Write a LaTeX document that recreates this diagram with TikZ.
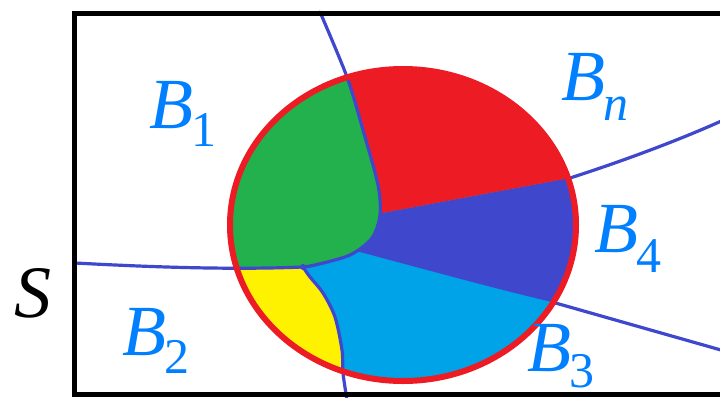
\documentclass[tikz,border=0pt]{standalone}
\usepackage{fontspec}
\setmainfont{Liberation Serif}
\definecolor{rgreen}{RGB}{34,177,76}
\definecolor{rred}{RGB}{237,28,36}
\definecolor{rdblue}{RGB}{63,72,204}
\definecolor{rlblue}{RGB}{0,162,232}
\definecolor{ryellow}{RGB}{255,242,0}
\definecolor{labblue}{RGB}{0,128,255}
\newcommand\blab[2]{{\fontsize{72}{72}\selectfont\itshape B}\kern-2pt\raisebox{-#2}{\fontsize{50}{50}\selectfont #1}}
\tikzset{
  border/.style={line width=5.5pt, black},
  bound/.style={line width=3.2pt, rdblue, line cap=round, line join=round},
  rim/.style={line width=6pt, rred},
  lab/.style={anchor=base west, inner sep=0pt, text=labblue}
}
\begin{document}
\begin{tikzpicture}[x=1pt,y=-1pt]
\useasboundingbox (0,0) rectangle (720,397);
\clip (0,0) rectangle (720,397);
\fill[white] (0,0) rectangle (720,397);
% regions inside the disc
\begin{scope}
  \clip (403,225) ellipse [x radius=173, y radius=156];
  \fill[rlblue] (200,0) rectangle (720,397);
  \fill[rdblue] (382,213) -- (570,178) -- (720,150) -- (720,350) -- (552,302)
     .. controls (500,290) and (420,268) .. (360,252) -- (340,250) -- (340,213) -- cycle;
  \fill[rred] plot[smooth] coordinates {(320,14) (347,77) (363,130) (378,185) (382,213)}
     -- (570,178) -- (720,123) -- (720,0) -- cycle;
  \fill[rgreen] plot[smooth] coordinates {(320,14) (347,77) (363,130) (378,185) (380,215) (372,238) (350,255) (315,265) (303,267)}
     -- (200,268) -- (200,0) -- cycle;
  \fill[ryellow] plot[smooth] coordinates {(303,267) (310,277) (323,293) (335,317) (342,350) (343,373) (347,400)}
     -- (200,400) -- (200,268) -- cycle;
\end{scope}
% boundary curves
\coordinate (J) at (303,267);
\coordinate (L0) at (75,263);
\draw[bound] plot[smooth] coordinates {(320,12) (347,77) (363,130) (378,185) (380,215) (372,238) (350,255) (315,265) (303,267)};
\draw[bound] (L0) .. controls (150,267) and (230,270) .. (J);
\draw[bound] plot[smooth] coordinates {(J) (310,277) (323,293) (335,317) (342,350) (343,373) (347,400)};
\coordinate (P4) at (570,178);
\coordinate (Q4) at (728,118);
\draw[bound] (P4) .. controls (620,162) and (680,140) .. (Q4);
\coordinate (P3) at (552,302);
\coordinate (Q3) at (728,352);
\draw[bound] (P3) -- (Q3);
\fill[rdblue] (J) circle (3pt);
% rim of the disc
\draw[rim] (403,225) ellipse [x radius=173, y radius=156];
% border of S
\draw[border] (730,13.5) -- (74.5,13.5) -- (74.5,394.5) -- (730,394.5);
% labels
\node[anchor=base west, inner sep=0pt] (S) at (14,317) {\fontsize{74}{74}\selectfont\itshape S};
\node[lab] (B1) at (149,128) {\blab{1}{18pt}};
\node[lab] (B2) at (122,355) {\blab{2}{18pt}};
\node[lab] (B3) at (527,371) {\blab{3}{16pt}};
\node[lab] (B4) at (594,252) {\blab{4}{20pt}};
\node[lab] (Bn) at (561,100) {{\fontsize{72}{72}\selectfont\itshape B}\kern-2pt\raisebox{-20pt}{\fontsize{50}{50}\selectfont\itshape n}};
\end{tikzpicture}
\end{document}
